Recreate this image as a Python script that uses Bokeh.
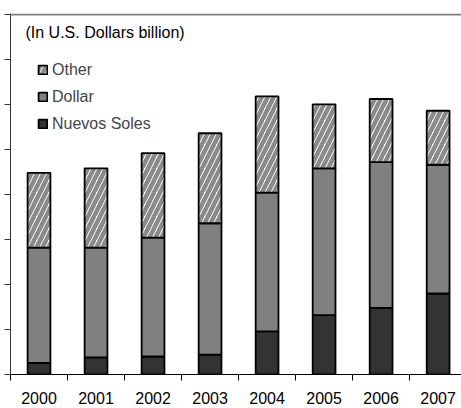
import numpy as np
from bokeh.plotting import figure
from bokeh.models import (Range1d, LinearAxis, FixedTicker, Span, Label, Legend, LegendItem, ColumnDataSource)
from bokeh.embed import file_html
from bokeh.resources import INLINE

years = ["2000", "2001", "2002", "2003", "2004", "2005", "2006", "2007"]
soles = [1.3, 1.9, 2.0, 2.2, 4.8, 6.6, 7.4, 9.0]
dollar = [12.8, 12.2, 13.2, 14.6, 15.4, 16.3, 16.2, 14.3]
other = [8.3, 8.8, 9.4, 10.0, 10.7, 7.1, 7.0, 6.0]
y_ticks = [0, 5, 10, 15, 20, 25, 30, 35, 40]
title_text = "(In U.S. Dollars billion)"

FONT = "Liberation Sans"

xpos = np.arange(len(years)) + 0.5
src = ColumnDataSource(dict(x=xpos, soles=soles, dollar=dollar, other=other))

p = figure(width=461, height=408, output_backend="svg", toolbar_location=None,
           x_range=Range1d(0, 7.91), y_range=Range1d(0, 40.1),
           x_axis_location=None, y_axis_location=None,
           min_border_left=10, min_border_right=0, min_border_top=13, min_border_bottom=34)
p.grid.visible = False
p.outline_line_color = None
p.background_fill_color = "white"

rs = p.vbar_stack(["soles", "dollar", "other"], x="x", width=0.4, source=src,
                  fill_color=["#333333", "#808080", "white"],
                  hatch_pattern=[" ", " ", "/"],
                  hatch_color="#8a8a8a", hatch_weight=4.5, hatch_scale=12,
                  line_color="black", line_width=1.8)

def blank(ticks):
    return {float(t): "" for t in ticks}

# y axis
yax = LinearAxis(ticker=FixedTicker(ticks=y_ticks))
yax.major_tick_out = 6
yax.major_tick_in = 0
yax.minor_tick_line_color = None
yax.axis_line_color = "#333333"
yax.major_tick_line_color = "#333333"
yax.major_label_overrides = blank(y_ticks)
yax.major_label_standoff = 0
p.add_layout(yax, "left")

# x axis with boundary ticks
bticks = list(range(len(years) + 1))
xb = LinearAxis(ticker=FixedTicker(ticks=bticks))
xb.major_tick_out = 6
xb.major_tick_in = 0
xb.minor_tick_line_color = None
xb.axis_line_color = "black"
xb.major_tick_line_color = "black"
xb.major_label_overrides = blank(bticks)
xb.major_label_standoff = 0
p.add_layout(xb, "below")

# x labels
xl = LinearAxis(ticker=FixedTicker(ticks=list(xpos)))
xl.major_label_overrides = {float(x): y for x, y in zip(xpos, years)}
xl.axis_line_color = None
xl.major_tick_line_color = None
xl.minor_tick_line_color = None
xl.major_tick_out = 0
xl.major_tick_in = 0
xl.major_label_standoff = 11
xl.major_label_text_font = FONT
xl.major_label_text_font_size = "16px"
xl.major_label_text_color = "black"
p.add_layout(xl, "below")

p.add_layout(Span(location=40, dimension="width", line_color="#808080", line_width=2))

p.add_layout(Label(x=0.263, y=38.0, text=title_text, text_font=FONT, text_font_size="16px",
                   text_baseline="middle", text_color="black"))

legend = Legend(items=[LegendItem(label="Other", renderers=[rs[2]]),
                       LegendItem(label="Dollar", renderers=[rs[1]]),
                       LegendItem(label="Nuevos Soles", renderers=[rs[0]])],
                location=(27, 240), glyph_width=11, glyph_height=11, label_height=21,
                spacing=6, label_standoff=4, padding=0, margin=0,
                border_line_color=None, background_fill_alpha=0,
                label_text_font=FONT, label_text_font_size="16px")
p.add_layout(legend, "center")

open("out.html", "w").write(file_html(p, INLINE))
